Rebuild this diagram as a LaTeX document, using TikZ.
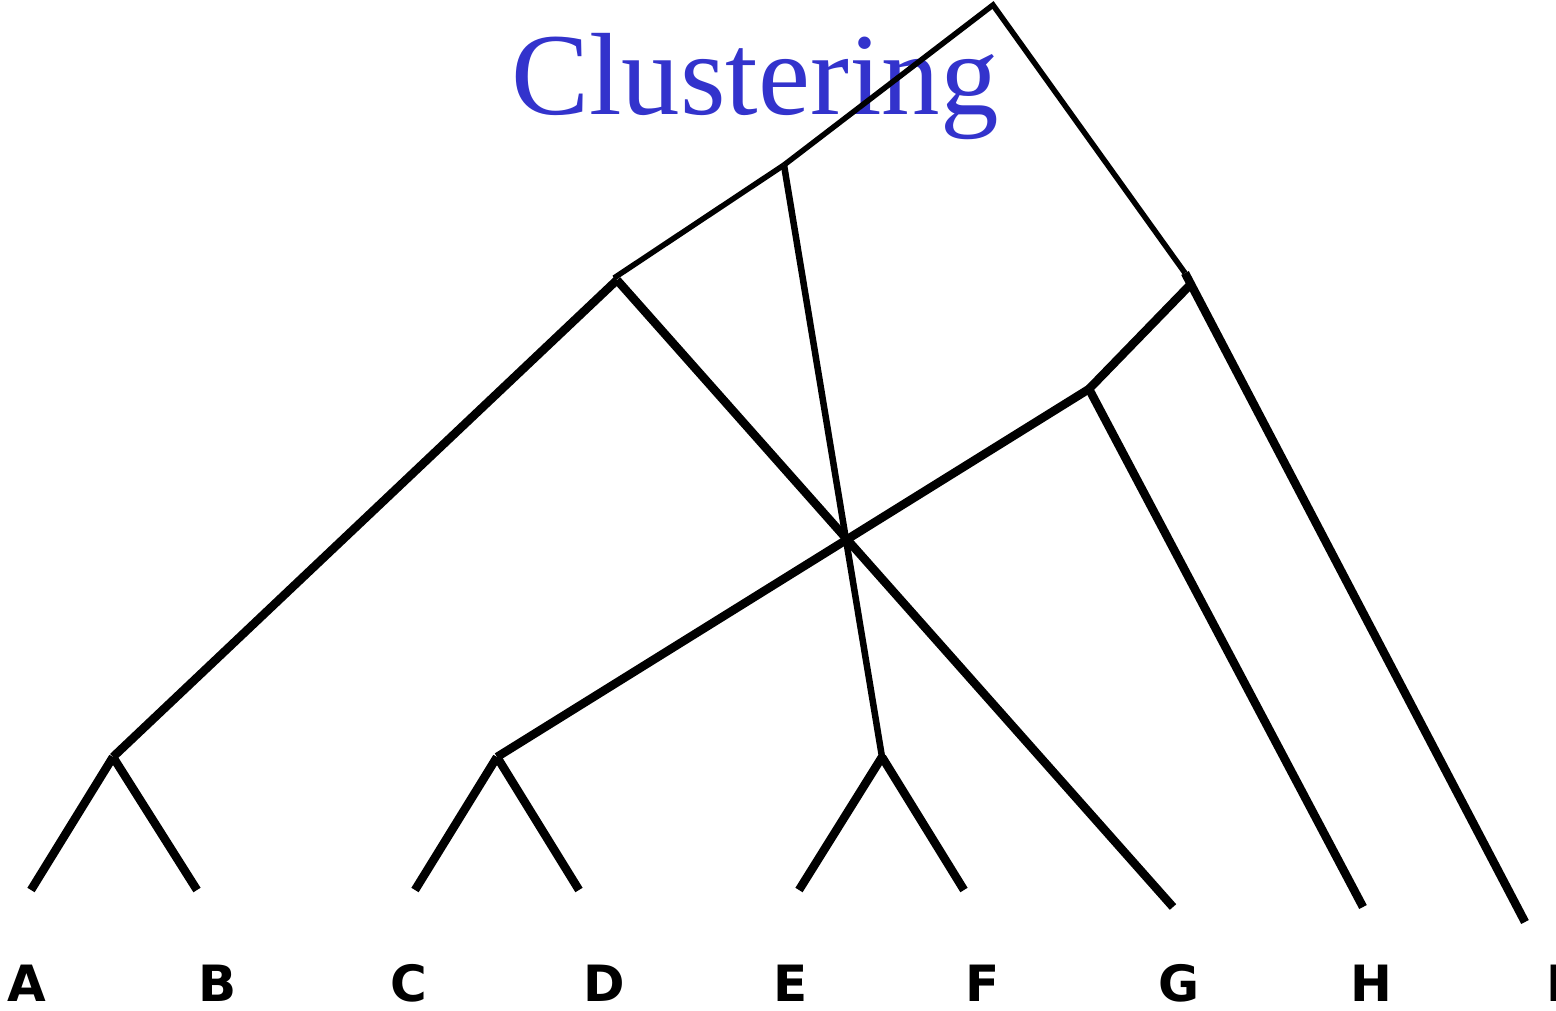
\documentclass[tikz,border=0pt]{standalone}
\usepackage{fontspec}
\setmainfont{Liberation Serif}
\newfontfamily\labelfont{DejaVu Sans}
\definecolor{titleblue}{HTML}{3333CC}
\begin{document}
\begin{tikzpicture}[x=1pt,y=-1pt,
  thinedge/.style={draw=black,line width=5.5pt,line cap=butt,line join=miter},
  midedge/.style={draw=black,line width=6.5pt,line cap=butt},
  thickedge/.style={draw=black,line width=8.5pt,line cap=butt},
  leaflabel/.style={font=\labelfont\bfseries\fontsize{50}{50}\selectfont,anchor=base,inner sep=0pt},
  title/.style={font=\fontsize{117}{117}\selectfont,text=titleblue,anchor=base,inner sep=0pt}]
\useasboundingbox (0,0) rectangle (1556,1010);

% title
\node[title] (ttl) at (755,114) {Clustering};

% internal joins of the tree
\coordinate (root) at (993,5);
\coordinate (n1) at (784,165);
\coordinate (n2a) at (614,278);
\coordinate (n2) at (617,280);
\coordinate (n3) at (1185,273);
\coordinate (n3b) at (1190,285);
\coordinate (n4) at (1089,389);
\coordinate (ab) at (113,757);
\coordinate (cd) at (497,757);
\coordinate (ef) at (882,757);

% leaf ends
\coordinate (a) at (31,890);
\coordinate (b) at (197,890);
\coordinate (c) at (415,890);
\coordinate (d) at (579,890);
\coordinate (e) at (799,890);
\coordinate (f) at (964,890);
\coordinate (g) at (1173,907);
\coordinate (h) at (1363,907);
\coordinate (i) at (1525,922);

% upper branches
\draw[thinedge] (n1) -- (root) -- (n3);
\draw[thinedge] (n1) -- (n2a);
\draw[midedge] (n1) -- (ef);

% main branches
\draw[thickedge] (n2) -- (ab);
\draw[thickedge] (n2) -- (g);
\draw[thickedge] (n3b) -- (n4);
\draw[thickedge] (n3) -- (i);
\draw[thickedge] (n4) -- (cd);
\draw[thickedge] (n4) -- (h);

% leaf pairs
\draw[thickedge] (ab) -- (a);
\draw[thickedge] (ab) -- (b);
\draw[thickedge] (cd) -- (c);
\draw[thickedge] (cd) -- (d);
\draw[thickedge] (ef) -- (e);
\draw[thickedge] (ef) -- (f);

% leaf names
\node[leaflabel] (la) at (27,1001) {A};
\node[leaflabel] (lb) at (218,1001) {B};
\node[leaflabel] (lc) at (409,1001) {C};
\node[leaflabel] (ld) at (604,1001) {D};
\node[leaflabel] (le) at (791,1001) {E};
\node[leaflabel] (lf) at (983,1001) {F};
\node[leaflabel] (lg) at (1179,1001) {G};
\node[leaflabel] (lh) at (1371,1001) {H};
\node[leaflabel] (li) at (1556,1001) {I};
\end{tikzpicture}
\end{document}
